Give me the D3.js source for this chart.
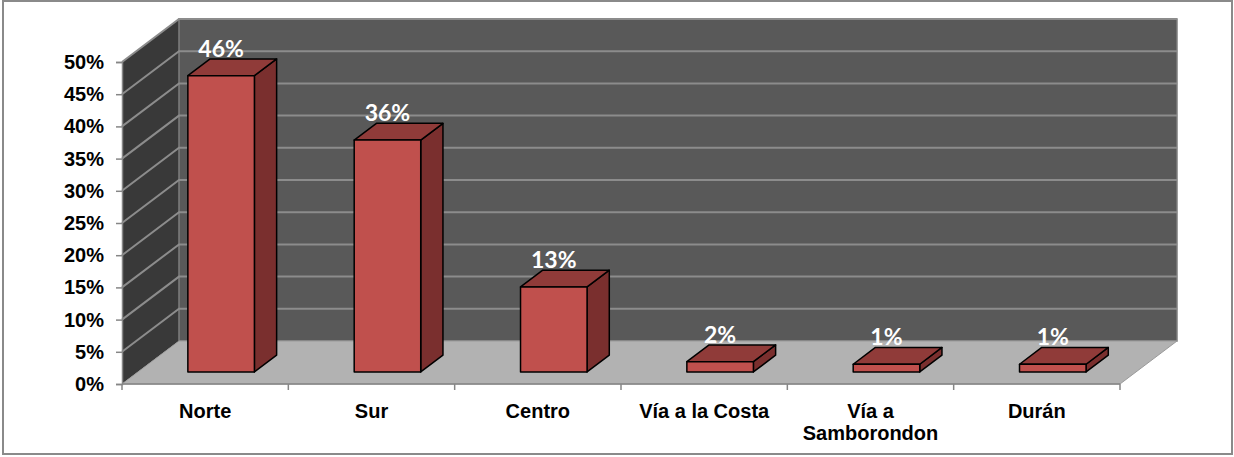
<!DOCTYPE html>
<html><head><meta charset="utf-8">
<script src="https://cdn.jsdelivr.net/npm/d3@7"></script>
<style>body{margin:0;background:#fff}svg{display:block}</style>
</head><body>
<svg id="chart" width="1234" height="457"></svg>
<script>
const categories = ["Norte", "Sur", "Centro", "Vía a la Costa", "Vía a Samborondon", "Durán"];
const categoryLines = [["Norte"], ["Sur"], ["Centro"], ["Vía a la Costa"], ["Vía a", "Samborondon"], ["Durán"]];
const values = [46, 36, 13.2, 1.6, 1.2, 1.2];
const yTicks = [0, 5, 10, 15, 20, 25, 30, 35, 40, 45, 50];

const svg = d3.select("#chart");

// outer border
svg.append("rect").attr("x", 3).attr("y", 1).attr("width", 1229).attr("height", 453)
  .attr("fill", "#fff").attr("stroke", "#8a8a8a").attr("stroke-width", 2);

const x = d3.scaleBand().domain(categories).range([122, 1120]).padding(0);
const y = d3.scaleLinear().domain([0, 50]).range([384, 62]);
const DX = 57, DY = -43;
const P = (px, py, t) => [px + DX * t, py + DY * t];
const poly = pts => "M" + pts.map(p => p.join(",")).join("L") + "Z";

const x0 = x.range()[0], x1 = x.range()[1];
const yb = y(0), yt = y(50);

// walls and floor
svg.append("path").attr("d", poly([P(x0, yt, 0), P(x0, yt, 1), P(x0, yb, 1), P(x0, yb, 0)]))
  .attr("fill", "#393939");
svg.append("path").attr("d", poly([P(x0, yt, 1), P(x1, yt, 1), P(x1, yb, 1), P(x0, yb, 1)]))
  .attr("fill", "#595959").attr("stroke", "#7d7d7d").attr("stroke-width", 1.5);
svg.append("path").attr("d", poly([P(x0, yb, 0), P(x1, yb, 0), P(x1, yb, 1), P(x0, yb, 1)]))
  .attr("fill", "#b2b2b2").attr("stroke", "#9a9a9a").attr("stroke-width", 1);

// gridlines
const grid = svg.append("g").attr("stroke", "#8c8c8c").attr("stroke-width", 2).attr("fill", "none");
yTicks.filter(v => v > 0).forEach(v => {
  const a = P(x0, y(v), 0), b = P(x0, y(v), 1), c = P(x1, y(v), 1);
  grid.append("path").attr("d", "M" + a + "L" + b + "L" + c);
});

// y axis
const yAxis = d3.axisLeft(y).tickValues(yTicks).tickSize(6).tickPadding(12).tickFormat(d => d + "%");
const gy = svg.append("g").attr("transform", `translate(${x0},0)`).call(yAxis);
gy.select(".domain").attr("stroke", "#868686").attr("stroke-width", 1.5);
gy.selectAll(".tick line").attr("stroke", "#868686").attr("stroke-width", 1.5);
gy.selectAll(".tick text").attr("fill", "#000")
  .style("font-family", "'Liberation Sans', Arial, sans-serif").style("font-weight", "bold").style("font-size", "20px");

// x axis
const gx = svg.append("g");
gx.append("line").attr("x1", x0).attr("x2", x1).attr("y1", yb).attr("y2", yb)
  .attr("stroke", "#868686").attr("stroke-width", 1.5);
const bounds = categories.map(c => x(c)).concat([x1]);
gx.selectAll("line.tk").data(bounds).join("line").attr("class", "tk")
  .attr("x1", d => d).attr("x2", d => d).attr("y1", yb).attr("y2", yb + 6)
  .attr("stroke", "#868686").attr("stroke-width", 1.5);
categories.forEach((c, i) => {
  const t = gx.append("text").attr("x", x(c) + x.bandwidth() / 2).attr("y", 418)
    .attr("text-anchor", "middle").attr("fill", "#000")
    .style("font-family", "'Liberation Sans', Arial, sans-serif").style("font-weight", "bold").style("font-size", "20px");
  categoryLines[i].forEach((ln, j) => {
    t.append("tspan").attr("x", x(c) + x.bandwidth() / 2).attr("dy", j === 0 ? 0 : 22).text(ln);
  });
});

// bars
const T0 = 0.28, T1 = 0.67;
const barW = x.bandwidth() * 0.4;
const fmt = d3.format(".0f");
const bars = svg.append("g").attr("stroke", "#000").attr("stroke-width", 1.5).attr("stroke-linejoin", "round");
categories.forEach((c, i) => {
  const v = values[i];
  const L = x(c) + (x.bandwidth() - barW) / 2, R = L + barW;
  const top = y(v), bot = y(0);
  const fTL = P(L, top, T0), fTR = P(R, top, T0), fBL = P(L, bot, T0), fBR = P(R, bot, T0);
  const bTL = P(L, top, T1), bTR = P(R, top, T1), bBR = P(R, bot, T1);
  bars.append("path").attr("d", poly([fTR, bTR, bBR, fBR])).attr("fill", "#7a2f2e");
  bars.append("path").attr("d", poly([fTL, fTR, bTR, bTL])).attr("fill", "#903b39");
  bars.append("path").attr("d", poly([fTL, fTR, fBR, fBL])).attr("fill", "#c0504d");
  svg.append("text").attr("x", (fTL[0] + fTR[0]) / 2).attr("y", bTL[1] - 2)
    .attr("text-anchor", "middle").attr("fill", "#fff")
    .style("font-family", "Lato, 'Open Sans', sans-serif").style("font-weight", "bold").style("font-size", "23px")
    .text(fmt(v) + "%");
});
</script>
</body></html>
